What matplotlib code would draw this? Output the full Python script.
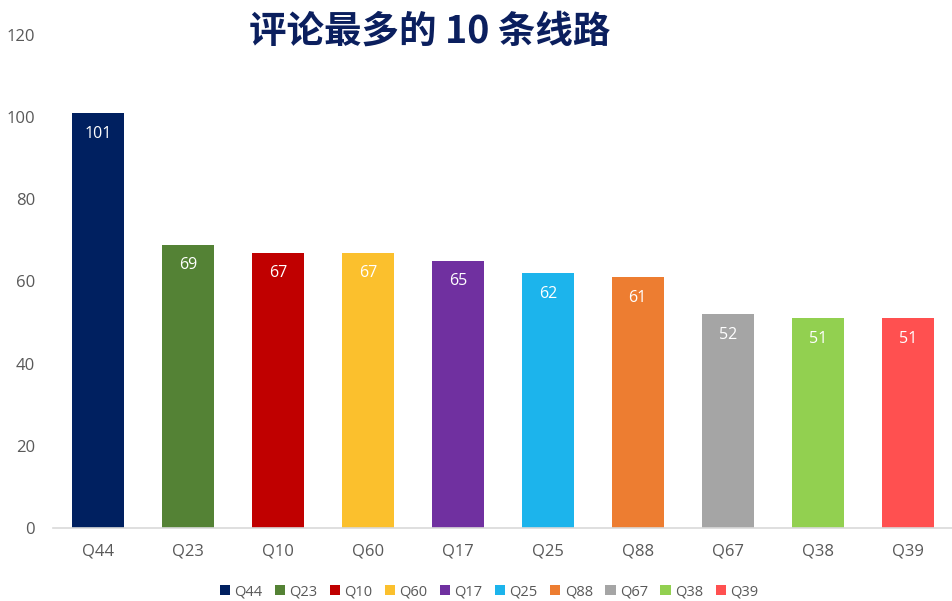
import numpy as np
import matplotlib.pyplot as plt
from matplotlib.patches import Patch

plt.rcParams['font.family'] = ['Open Sans', 'Noto Sans CJK SC', 'DejaVu Sans']

# data
routes = ['Q44', 'Q23', 'Q10', 'Q60', 'Q17', 'Q25', 'Q88', 'Q67', 'Q38', 'Q39']
comments = [101, 69, 67, 67, 65, 62, 61, 52, 51, 51]
colors = ['#002060', '#548235', '#C00000', '#FBC02D', '#7030A0',
          '#1CB4EC', '#ED7D31', '#A5A5A5', '#92D050', '#FF5050']
yticks = [0, 20, 40, 60, 80, 100, 120]

fig = plt.figure(figsize=(9.53, 6.01), dpi=100)
ax = fig.add_axes([0.0556, 0.1215, 0.944, 0.8203])

x = np.arange(len(routes))
bars = ax.bar(x, comments, width=0.58, color=colors)

# value labels inside the bar tops
for xi, v in zip(x, comments):
    ax.text(xi, v - 5, str(v), ha='center', va='center', color='white', fontsize=11.5)

ax.set_xlim(-0.5, 9.5)
ax.set_ylim(0, 120)
ax.set_yticks(yticks)
ax.set_xticks(x)
ax.set_xticklabels(routes)
ax.tick_params(axis='both', length=0, labelsize=12, colors='#595959')
ax.tick_params(axis='y', pad=13)
ax.tick_params(axis='x', pad=11)
for s in ['top', 'right', 'left']:
    ax.spines[s].set_visible(False)
ax.spines['bottom'].set_color('#d9d9d9')
ax.spines['bottom'].set_linewidth(1.2)

fig.text(0.451, 0.948, '评论最多的 10 条线路', ha='center', va='center',
         fontsize=27, fontweight='bold', color='#0B1F5E',
         family=['Noto Sans CJK SC', 'DejaVu Sans'])

handles = [Patch(facecolor=c, label=r) for c, r in zip(colors, routes)]
fig.legend(handles=handles, loc='center', bbox_to_anchor=(0.513, 0.015),
           ncol=10, frameon=False, fontsize=10.5, handlelength=0.7,
           handleheight=0.7, handletextpad=0.3, columnspacing=0.85,
           labelcolor='#595959')

plt.savefig('out.png', dpi=100)
